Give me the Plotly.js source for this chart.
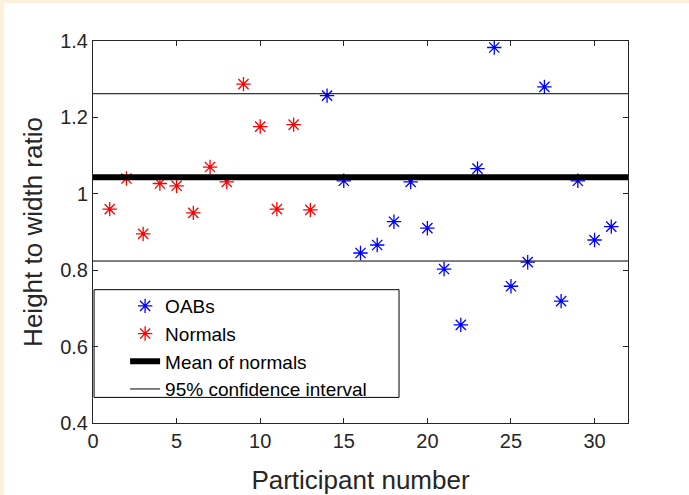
<!DOCTYPE html>
<html>
<head>
<meta charset="utf-8">
<script src="https://cdn.plot.ly/plotly-3.0.1.min.js"></script>
<style>
  html, body { margin: 0; padding: 0; background: #fdf1dc; width: 689px; height: 495px; overflow: hidden; }
  #chart { position: absolute; left: 4px; top: 3px; width: 685px; height: 492px; background: #ffffff; }
</style>
</head>
<body>
<div id="chart"></div>
<script>
// Data
const normalsX = [1, 2, 3, 4, 5, 6, 7, 8, 9, 10, 11, 12, 13];
const normalsY = [0.960, 1.040, 0.895, 1.027, 1.021, 0.950, 1.070, 1.031, 1.287, 1.176, 0.960, 1.181, 0.958];

const oabsX = [14, 15, 16, 17, 18, 19, 20, 21, 22, 23, 24, 25, 26, 27, 28, 29, 30, 31];
const oabsY = [1.257, 1.034, 0.845, 0.866, 0.927, 1.031, 0.910, 0.803, 0.657, 1.066, 1.383, 0.758, 0.821, 1.280, 0.719, 1.034, 0.879, 0.914];

const lineX = [0, 32];
const meanOfNormals = 1.043;
const ciUpper = 1.262;
const ciLower = 0.824;

const xTickVals = [0, 5, 10, 15, 20, 25, 30];
const yTickVals = [0.4, 0.6, 0.8, 1.0, 1.2, 1.4];
const yTickText = ['0.4', '0.6', '0.8', '1', '1.2', '1.4'];

const seriesNames = ['OABs', 'Normals', 'Mean of normals', '95% confidence interval'];

const textColor = '#262626';
const fontFamily = 'Liberation Sans, Arial, Helvetica, sans-serif';

const traces = [
  {
    x: oabsX, y: oabsY, name: seriesNames[0], type: 'scatter', mode: 'markers',
    marker: { symbol: 'asterisk-open', size: 12, color: '#0000ff', line: { color: '#0000ff', width: 1.3 } }
  },
  {
    x: normalsX, y: normalsY, name: seriesNames[1], type: 'scatter', mode: 'markers',
    marker: { symbol: 'asterisk-open', size: 12, color: '#ff0000', line: { color: '#ff0000', width: 1.3 } }
  },
  {
    x: lineX, y: lineX.map(() => meanOfNormals), name: seriesNames[2], type: 'scatter', mode: 'lines',
    line: { color: '#000000', width: 6 }
  },
  {
    x: lineX, y: lineX.map(() => ciUpper), name: seriesNames[3], type: 'scatter', mode: 'lines',
    line: { color: '#000000', width: 1 }
  },
  {
    x: lineX, y: lineX.map(() => ciLower), name: seriesNames[3], type: 'scatter', mode: 'lines',
    line: { color: '#000000', width: 1 }, showlegend: false
  }
];

const axisCommon = {
  showline: true, linecolor: textColor, linewidth: 1, mirror: 'ticks',
  ticks: 'inside', ticklen: 5, tickwidth: 1, tickcolor: textColor,
  showgrid: false, zeroline: false,
  tickfont: { family: fontFamily, size: 20, color: textColor }
};

const layout = {
  width: 685, height: 492,
  margin: { l: 89, r: 61, t: 38, b: 72 },
  paper_bgcolor: '#ffffff', plot_bgcolor: '#ffffff',
  showlegend: true,
  legend: {
    x: 0.06, y: 0.356, xanchor: 'left', yanchor: 'top',
    bgcolor: 'rgba(0,0,0,0)', borderwidth: 0,
    font: { family: fontFamily, size: 19, color: '#000000' },
    tracegroupgap: 0
  },
  shapes: [
    { type: 'rect', xref: 'paper', yref: 'paper', x0: 0.002, x1: 0.572, y0: 0.067, y1: 0.349,
      line: { color: '#000000', width: 1 }, fillcolor: '#ffffff', layer: 'below' }
  ],
  xaxis: Object.assign({}, axisCommon, {
    range: [0, 32], tickvals: xTickVals,
    title: { text: 'Participant number', font: { family: fontFamily, size: 26, color: textColor }, standoff: 24 }
  }),
  yaxis: Object.assign({}, axisCommon, {
    range: [0.4, 1.4], tickvals: yTickVals, ticktext: yTickText,
    title: { text: 'Height to width ratio', font: { family: fontFamily, size: 26, color: textColor }, standoff: 10 }
  })
};

Plotly.newPlot('chart', traces, layout, { displayModeBar: false, staticPlot: true });
</script>
</body>
</html>
